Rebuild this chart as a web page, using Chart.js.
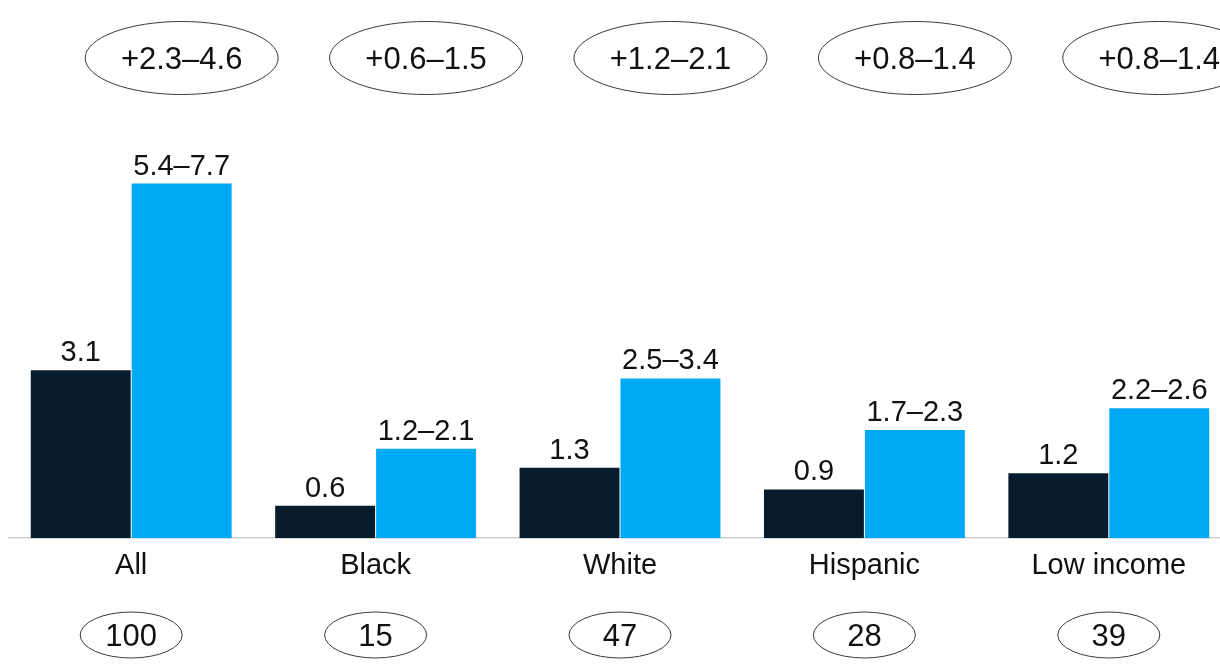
<!DOCTYPE html>
<html>
<head>
<meta charset="utf-8">
<script src="https://cdn.jsdelivr.net/npm/chart.js@4/dist/chart.umd.min.js"></script>
<style>
  html, body { margin: 0; padding: 0; background: #fff; overflow: hidden; }
  #wrap { width: 1240px; height: 670px; }
</style>
</head>
<body>
<div id="wrap"><canvas id="chart" width="1240" height="670"></canvas></div>
<script>
// Groups and values
const categories = ['All', 'Black', 'White', 'Hispanic', 'Low income'];
const currentValues = [3.1, 0.6, 1.3, 0.9, 1.2];
const potentialLow = [5.4, 1.2, 2.5, 1.7, 2.2];
const potentialHigh = [7.7, 2.1, 3.4, 2.3, 2.6];
const gainLow = [2.3, 0.6, 1.2, 0.8, 0.8];
const gainHigh = [4.6, 1.5, 2.1, 1.4, 1.4];
const shareOfTotal = [100, 15, 47, 28, 39];

const DASH = '\u2013';
const fmt = v => v.toFixed(1);
// potential bars are drawn at the middle of their range
const potentialMid = potentialLow.map((lo, i) => (lo + potentialHigh[i]) / 2);
const potentialLabels = potentialLow.map((lo, i) => fmt(lo) + DASH + fmt(potentialHigh[i]));
const gainLabels = gainLow.map((lo, i) => '+' + fmt(lo) + DASH + fmt(gainHigh[i]));

const FONT = '"Liberation Sans", Arial, sans-serif';
const INK = '#111111';

const annotations = {
  id: 'annotations',
  afterDatasetsDraw(chart) {
    const ctx = chart.ctx;
    const x = chart.scales.x;
    ctx.save();
    ctx.fillStyle = INK;
    ctx.textAlign = 'center';
    ctx.textBaseline = 'alphabetic';
    ctx.font = '29px ' + FONT;
    // value labels above bars
    chart.data.datasets.forEach((ds, di) => {
      const meta = chart.getDatasetMeta(di);
      meta.data.forEach((bar, i) => {
        const txt = di === 0 ? fmt(currentValues[i]) : potentialLabels[i];
        ctx.fillText(txt, bar.x, bar.y - 9);
      });
    });
    // gain ellipses above the potential bars
    const potMeta = chart.getDatasetMeta(1);
    ctx.strokeStyle = '#3a3a3a';
    ctx.lineWidth = 1;
    ctx.font = '31px ' + FONT;
    ctx.textBaseline = 'middle';
    potMeta.data.forEach((bar, i) => {
      ctx.beginPath();
      ctx.ellipse(bar.x, 58, 96.5, 36.5, 0, 0, Math.PI * 2);
      ctx.stroke();
      ctx.fillText(gainLabels[i], bar.x, 60);
    });
    // share ellipses below the category labels
    categories.forEach((c, i) => {
      const cx = x.getPixelForValue(i);
      ctx.beginPath();
      ctx.ellipse(cx, 635, 51, 23, 0, 0, Math.PI * 2);
      ctx.stroke();
      ctx.fillText(String(shareOfTotal[i]), cx, 637);
    });
    ctx.restore();
  }
};

new Chart(document.getElementById('chart'), {
  type: 'bar',
  data: {
    labels: categories,
    datasets: [
      {
        label: 'Current',
        data: currentValues,
        backgroundColor: '#071d2d',
        categoryPercentage: 0.826,
        barPercentage: 0.99
      },
      {
        label: 'Potential',
        data: potentialMid,
        backgroundColor: '#00a9f4',
        categoryPercentage: 0.826,
        barPercentage: 0.99
      }
    ]
  },
  options: {
    responsive: false,
    animation: false,
    events: [],
    layout: { padding: { top: 105, left: 9, right: 9, bottom: 77 } },
    plugins: { legend: { display: false }, tooltip: { enabled: false } },
    scales: {
      x: {
        grid: { display: false, drawTicks: false },
        border: { display: true, color: '#cfcfcf', width: 1.5 },
        ticks: { color: INK, font: { family: FONT, size: 29 }, padding: 10, maxRotation: 0 }
      },
      y: {
        display: false,
        min: 0,
        max: 8
      }
    }
  },
  plugins: [annotations]
});
</script>
</body>
</html>
